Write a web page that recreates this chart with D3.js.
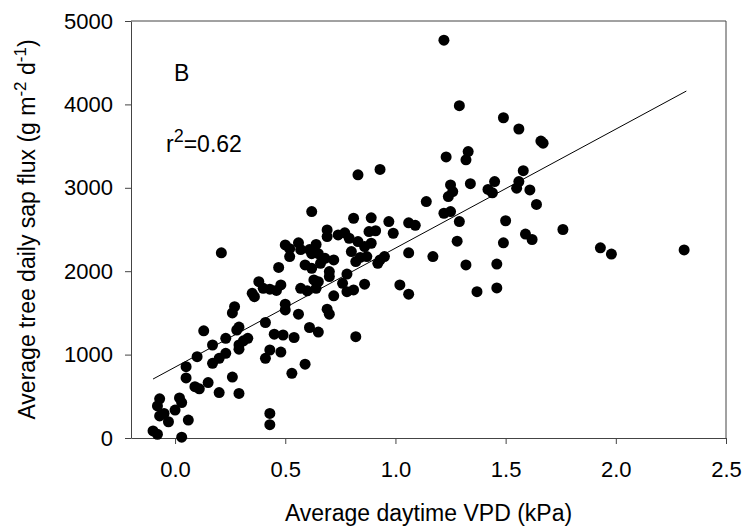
<!DOCTYPE html>
<html>
<head>
<meta charset="utf-8">
<script src="https://cdn.jsdelivr.net/npm/d3@7"></script>
<style>
    body { margin: 0; background: #fff; }
    text { font-family: "Liberation Sans", Arial, sans-serif; fill: #000; }
</style>
</head>
<body>
<div id="chart"></div>
<script>
// average daytime VPD (kPa)
var vpd = [
    -0.10, -0.08, 0.03, 0.06, -0.07, -0.08, -0.07, -0.05, -0.03, 0.00,
    0.02, 0.03, 0.43, 0.43, 0.09, 0.11, 0.15, 0.20, 0.29, 0.05,
    0.26, 0.05, 0.10, 0.17, 0.20, 0.23, 0.17, 0.13, 0.23, 0.29,
    0.29, 0.31, 0.33, 0.28, 0.29, 0.21, 0.26, 0.27, 0.41, 0.43,
    0.48, 0.41, 0.53, 0.59, 0.45, 0.49, 0.54, 0.61, 0.65, 0.50,
    0.50, 0.56, 0.35, 0.36, 0.38, 0.40, 0.43, 0.46, 0.48, 0.47,
    0.50, 0.52, 0.56, 0.57, 0.61, 0.64, 0.52, 0.62, 0.65, 0.59,
    0.62, 0.63, 0.65, 0.57, 0.60, 0.64, 1.23, 0.93, 0.83, 0.62,
    1.14, 1.25, 1.26, 1.24, 1.22, 1.25, 0.81, 0.89, 0.97, 1.06,
    1.09, 0.99, 0.88, 0.91, 0.69, 0.69, 0.74, 0.77, 0.79, 0.83,
    0.86, 0.89, 0.80, 0.84, 0.87, 0.82, 0.95, 0.93, 0.92, 1.06,
    1.17, 0.66, 0.68, 0.72, 0.70, 0.70, 0.78, 0.76, 0.78, 0.81,
    0.86, 0.72, 1.02, 1.06, 0.69, 0.70, 0.82, 1.22, 1.29, 1.49,
    1.56, 1.66, 1.67, 1.33, 1.32, 1.58, 1.34, 1.45, 1.42, 1.44,
    1.56, 1.55, 1.61, 1.64, 1.29, 1.50, 1.76, 1.59, 1.62, 1.28,
    1.49, 1.93, 1.98, 2.31, 1.32, 1.46, 1.37, 1.46
];
// average tree daily sap flux (g m-2 d-1)
var sapFlux = [
    85, 45, 10, 215, 470, 385, 265, 295, 195, 335,
    480, 425, 295, 160, 615, 590, 665, 545, 535, 720,
    730, 855, 975, 895, 955, 1015, 1115, 1285, 1195, 1115,
    1065, 1165, 1195, 1295, 1330, 2220, 1500, 1575, 1385, 1055,
    1030, 955, 775, 885, 1245, 1235, 1205, 1325, 1270, 1605,
    1535, 1485, 1735, 1695, 1875, 1795, 1785, 1770, 1835, 2045,
    2315, 2270, 2340, 2260, 2260, 2320, 2175, 2210, 2210, 2075,
    2035, 1895, 1875, 1795, 1765, 1795, 3370, 3220, 3155, 2715,
    2835, 3035, 2955, 2895, 2695, 2715, 2635, 2640, 2595, 2580,
    2550, 2455, 2475, 2485, 2495, 2415, 2435, 2460, 2395, 2355,
    2295, 2335, 2235, 2165, 2175, 2115, 2175, 2135, 2095, 2220,
    2175, 2095, 2155, 2135, 1995, 1935, 1965, 1855, 1755, 1775,
    1845, 1705, 1835, 1725, 1545, 1485, 1215, 4770, 3985, 3840,
    3705, 3560, 3535, 3435, 3335, 3205, 3050, 3075, 2980, 2940,
    3075, 2995, 2975, 2800, 2595, 2605, 2500, 2445, 2380, 2360,
    2340, 2280, 2205, 2255, 2075, 2085, 1755, 1800
];
// linear fit end points
var fitX = [-0.10, 2.32];
var fitY = [707, 4160];

var xTicks = [0, 0.5, 1.0, 1.5, 2.0, 2.5];
var yTicks = [0, 1000, 2000, 3000, 4000, 5000];

var WIDTH = 747, HEIGHT = 531;
var LEFT = 131, RIGHT = 726, TOP = 21, BOTTOM = 438;
var FONT = "Liberation Sans, Arial, sans-serif";

var svg = d3.select("#chart").append("svg")
    .attr("width", WIDTH)
    .attr("height", HEIGHT);

var x = d3.scaleLinear().domain([-0.2, 2.5]).range([LEFT, RIGHT]);
var y = d3.scaleLinear().domain([0, 5000]).range([BOTTOM, TOP]);

var points = vpd.map(function (v, i) {
    return {vpd: v, flux: sapFlux[i]};
});

// frame (top + right)
svg.append("path")
    .attr("d", "M" + LEFT + "," + TOP + "H" + RIGHT + "V" + BOTTOM)
    .attr("fill", "none")
    .attr("stroke", "#444")
    .attr("stroke-width", 1);

var xAxis = svg.append("g")
    .attr("transform", "translate(0," + BOTTOM + ")")
    .call(d3.axisBottom(x).tickValues(xTicks).tickFormat(d3.format(".1f"))
        .tickSize(6).tickSizeOuter(0).tickPadding(17));

var yAxis = svg.append("g")
    .attr("transform", "translate(" + LEFT + ",0)")
    .call(d3.axisLeft(y).tickValues(yTicks).tickFormat(d3.format("d"))
        .tickSize(6).tickSizeOuter(0).tickPadding(12));

[xAxis, yAxis].forEach(function (g) {
    g.attr("font-family", FONT).attr("font-size", 22);
    g.selectAll("path, line").attr("stroke", "#444");
    g.selectAll("text").attr("fill", "#000");
});

// regression line
svg.append("line")
    .attr("x1", x(fitX[0])).attr("y1", y(fitY[0]))
    .attr("x2", x(fitX[1])).attr("y2", y(fitY[1]))
    .attr("stroke", "#000")
    .attr("stroke-width", 1);

svg.append("g").attr("id", "points")
    .selectAll("circle")
    .data(points).enter()
    .append("circle")
    .attr("cx", function (d) { return x(d.vpd); })
    .attr("cy", function (d) { return y(d.flux); })
    .attr("r", 5.5)
    .attr("fill", "#000");

// panel letter and r2
svg.append("text")
    .attr("x", 174).attr("y", 81)
    .attr("font-size", 23)
    .text("B");

var r2 = svg.append("text")
    .attr("x", 166).attr("y", 152)
    .attr("font-size", 23);
r2.append("tspan").text("r");
r2.append("tspan").attr("dy", -10).attr("font-size", 18).text("2");
r2.append("tspan").attr("dy", 10).text("=0.62");

// axis titles
svg.append("text")
    .attr("x", (LEFT + RIGHT) / 2).attr("y", 521)
    .attr("text-anchor", "middle")
    .attr("font-size", 23)
    .text("Average daytime VPD (kPa)");

var yTitle = svg.append("text")
    .attr("transform", "translate(35," + (TOP + BOTTOM) / 2 + ")rotate(-90)")
    .attr("text-anchor", "middle")
    .attr("font-size", 23);
yTitle.append("tspan").text("Average tree daily sap flux (g m");
yTitle.append("tspan").attr("dy", -9).attr("font-size", 17).text("-2");
yTitle.append("tspan").attr("dy", 9).text(" d");
yTitle.append("tspan").attr("dy", -9).attr("font-size", 17).text("-1");
yTitle.append("tspan").attr("dy", 9).text(")");
</script>
</body>
</html>
